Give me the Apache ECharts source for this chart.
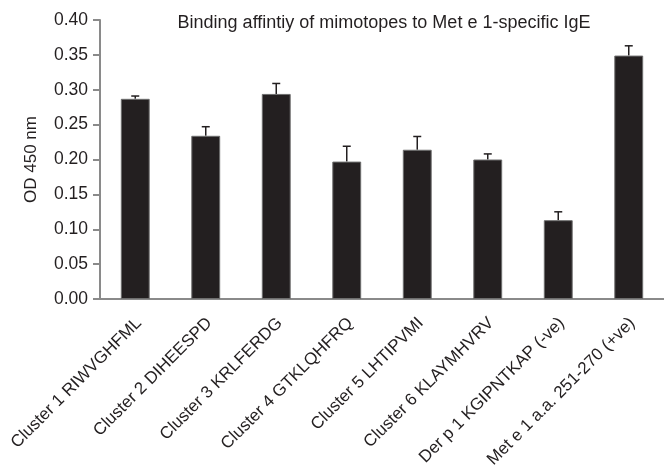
<!DOCTYPE html>
<html><head><meta charset="utf-8">
<script src="https://cdn.jsdelivr.net/npm/echarts@6/dist/echarts.min.js"></script>
<style>html,body{margin:0;padding:0;background:#fff}#c{width:664px;height:471px}</style>
</head><body><div id="c"></div>
<script>
var categories = ['Cluster 1 RIWVGHFML','Cluster 2 DIHEESPD','Cluster 3 KRLFERDG','Cluster 4 GTKLQHFRQ','Cluster 5 LHTIPVMI','Cluster 6 KLAYMHVRV','Der p 1 KGIPNTKAP (-ve)','Met e 1 a.a. 251-270 (+ve)'];
var means = [0.287, 0.234, 0.294, 0.197, 0.214, 0.200, 0.113, 0.349];
var errors = [0.004, 0.013, 0.015, 0.022, 0.019, 0.008, 0.012, 0.014];
var yTicks = [0, 0.05, 0.10, 0.15, 0.20, 0.25, 0.30, 0.35, 0.40];

var errData = means.map(function(m, i){ return [i, m, m + errors[i]]; });
var font = 'Liberation Sans, Arial, sans-serif';
var chart = echarts.init(document.getElementById('c'));
chart.setOption({
  animation: false,
  title: { text: 'Binding affintiy of mimotopes to Met e 1-specific IgE', left: 379, textAlign: 'center', top: 9,
    textStyle: { fontFamily: font, fontSize: 18, fontWeight: 'normal', color: '#231f20' } },
  grid: { left: 100, right: 0, top: 20, bottom: 172 },
  xAxis: { type: 'category', data: categories,
    axisLine: { lineStyle: { color: '#8a8a8a', width: 2 } },
    axisTick: { alignWithLabel: false, length: 8, lineStyle: { color: '#8a8a8a', width: 2 } },
    axisLabel: { rotate: 45, interval: 0, fontFamily: font, fontSize: 17, color: '#231f20', margin: 25,
      padding: [0, -5, 0, 0] } },
  yAxis: { type: 'value', min: yTicks[0], max: yTicks[yTicks.length - 1], interval: 0.05,
    name: 'OD 450 nm', nameLocation: 'middle', nameGap: 60,
    nameTextStyle: { fontFamily: font, fontSize: 17, color: '#231f20' },
    axisLine: { show: true, lineStyle: { color: '#8a8a8a', width: 2 } },
    axisTick: { show: true, length: 7, lineStyle: { color: '#8a8a8a', width: 2 } },
    splitLine: { show: false },
    axisLabel: { fontFamily: font, fontSize: 17.5, color: '#231f20', margin: 12,
      formatter: function(v){ return v.toFixed(2); } } },
  series: [
    { type: 'bar', data: means, barWidth: '41%',
      itemStyle: { color: '#231f20', borderColor: '#6e6e6e', borderWidth: 1 } },
    { type: 'custom', data: errData, z: 1,
      renderItem: function(params, api){
        var x = api.coord([api.value(0), api.value(1)]);
        var top = api.coord([api.value(0), api.value(2)]);
        var cw = 4;
        return { type: 'group', children: [
          { type: 'line', shape: { x1: x[0], y1: x[1], x2: top[0], y2: top[1] }, style: { stroke: '#231f20', lineWidth: 1.5 } },
          { type: 'line', shape: { x1: top[0]-cw, y1: top[1], x2: top[0]+cw, y2: top[1] }, style: { stroke: '#231f20', lineWidth: 1.5 } }
        ]};
      } }
  ]
});
</script></body></html>
